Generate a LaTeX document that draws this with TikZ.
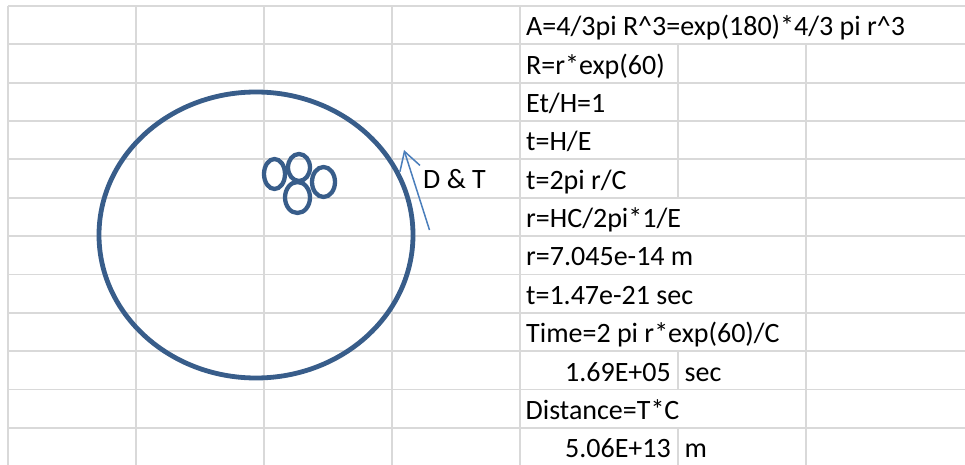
\documentclass[tikz,border=0pt]{standalone}
\usepackage{fontspec}
\setmainfont{Carlito}
\usetikzlibrary{positioning, arrows.meta}
\definecolor{gridgray}{RGB}{217, 217, 217}
\definecolor{shapeblue}{RGB}{56, 93, 138}
\definecolor{arrowblue}{RGB}{74, 126, 187}

\begin{document}
\begin{tikzpicture}[x=1pt, y=-1pt,
      gridline/.style={draw=gridgray, line width=1.9pt},
      celltext/.style={anchor=base west, inner sep=0pt, font=\fontsize{28}{33}\selectfont},
      cellnum/.style={anchor=base east, inner sep=0pt, font=\fontsize{28}{33}\selectfont},
      ringstyle/.style={draw=shapeblue, line width=4.8pt},
      blobstyle/.style={draw=shapeblue, line width=4.3pt},
      arrowstyle/.style={-{Straight Barb[length=18pt, width=21pt]}, draw=arrowblue, line width=1.5pt}
    ]
      \useasboundingbox (0,0) rectangle (965,465);
      \fill [white] (0,0) rectangle (965,465);

      % sheet grid
      \foreach \r in {0,...,11}
        \draw [gridline] (8,6+38.35*\r) -- (965,6+38.35*\r);
      \foreach \c in {8,136,264,392,520}
        \draw [gridline] (\c,6) -- (\c,465);
      \draw [gridline] (806,44.35) -- (806,465);
      \draw [gridline] (678,44.35) -- (678,197.75);
      \draw [gridline] (678,351.15) -- (678,389.5);
      \draw [gridline] (678,427.85) -- (678,465);

      % the orbit and the nucleus
      \draw [ringstyle] (256,235) ellipse [x radius=157pt, y radius=143pt];
      \draw [blobstyle] (274.5,174) ellipse [x radius=10.5pt, y radius=15pt];
      \draw [blobstyle] (299,167.5) ellipse [x radius=11pt, y radius=13.5pt];
      \draw [blobstyle] (323.5,182) ellipse [x radius=11.5pt, y radius=15pt];
      \draw [blobstyle] (297.5,197.5) ellipse [x radius=12.5pt, y radius=15.5pt];

      \coordinate (arrowtail) at (429.5,230);
      \coordinate (arrowtip) at (404,150);
      \draw [arrowstyle] (arrowtail) -- (arrowtip);
      \node [celltext] (labeldt) at (423,188.3) {D \& T};

      % cell texts
      \node [celltext] (eqvolume) at (526,6+38.35*1-8.5) {A=4/3pi R\^{}3=exp(180)*4/3 pi r\^{}3};
      \node [celltext] (eqradius) at (526,6+38.35*2-8.5) {R=r*exp(60)};
      \node [celltext] (eqenergy) at (526,6+38.35*3-8.5) {Et/H=1};
      \node [celltext] (eqtime) at (526,6+38.35*4-8.5) {t=H/E};
      \node [celltext] (eqperiod) at (526,6+38.35*5-8.5) {t=2pi r/C};
      \node [celltext] (eqsmallr) at (526,6+38.35*6-8.5) {r=HC/2pi*1/E};
      \node [celltext] (valsmallr) at (526,6+38.35*7-8.5) {r=7.045e-14 m};
      \node [celltext] (valsmallt) at (526,6+38.35*8-8.5) {t=1.47e-21 sec};
      \node [celltext] (eqbigtime) at (526,6+38.35*9-8.5) {Time=2 pi r*exp(60)/C};
      \node [cellnum] (valbigtime) at (671,6+38.35*10-8.5) {1.69E+05};
      \node [celltext] (unitsec) at (684.5,6+38.35*10-8.5) {sec};
      \node [celltext] (eqdistance) at (525.5,6+38.35*11-8.5) {Distance=T*C};
      \node [cellnum] (valdistance) at (671,6+38.35*12-8.5) {5.06E+13};
      \node [celltext] (unitm) at (684.5,6+38.35*12-8.5) {m};
    \end{tikzpicture}
\end{document}
